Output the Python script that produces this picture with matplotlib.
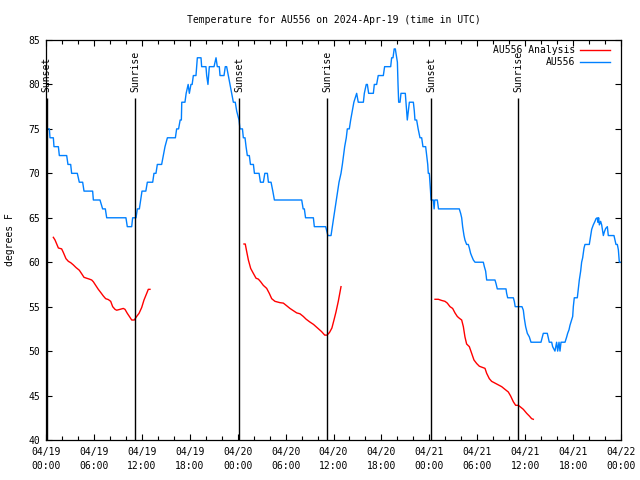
import matplotlib
matplotlib.use('Agg')
import matplotlib.pyplot as plt

plt.rcParams['font.family'] = ['DejaVu Sans Mono', 'DejaVu Sans']
plt.rcParams['font.size'] = 7

title = "Temperature for AU556 on 2024-Apr-19 (time in UTC)"
ylabel = "degrees F"
obs_label = "AU556"
ana_label = "AU556 Analysis"

x_tick_hours = [0, 6, 12, 18, 24, 30, 36, 42, 48, 54, 60, 66, 72]
x_tick_labels = ["04/19\n00:00", "04/19\n06:00", "04/19\n12:00", "04/19\n18:00",
                 "04/20\n00:00", "04/20\n06:00", "04/20\n12:00", "04/20\n18:00",
                 "04/21\n00:00", "04/21\n06:00", "04/21\n12:00", "04/21\n18:00",
                 "04/22\n00:00"]
y_ticks = [40, 45, 50, 55, 60, 65, 70, 75, 80, 85]

sun_hours = [0.1, 11.2, 24.18, 35.22, 48.25, 59.13]
sun_names = ["Sunset", "Sunrise", "Sunset", "Sunrise", "Sunset", "Sunrise"]

obs_hours = [0.10, 0.42, 0.50, 0.92, 1.00, 1.55, 1.67, 2.59, 2.75, 3.09, 3.21, 3.92,
             4.17, 4.59, 4.76, 5.84, 5.93, 6.76, 7.09, 7.43, 7.60, 10.01, 10.18, 10.73,
             10.85, 11.27, 11.44, 11.69, 11.86, 12.02, 12.50, 12.69, 13.36, 13.52, 13.77,
             13.94, 14.48, 14.69, 14.90, 15.20, 16.20, 16.36, 16.60, 16.80, 16.95, 17.00,
             17.40, 17.55, 17.80, 17.95, 18.15, 18.30, 18.45, 18.78, 18.87, 18.95, 19.41,
             19.49, 19.78, 20.03, 20.12, 20.28, 20.37, 20.45, 21.04, 21.16, 21.29, 21.45,
             21.70, 21.79, 22.29, 22.45, 22.62, 22.83, 23.04, 23.25, 23.46, 23.70, 23.88,
             24.17, 24.29, 24.60, 24.71, 24.92, 25.05, 25.21, 25.46, 25.60, 25.97, 26.10,
             26.68, 26.85, 27.22, 27.40, 27.72, 27.85, 28.18, 28.40, 28.60, 32.02, 32.20,
             32.35, 32.50, 33.48, 33.60, 35.02, 35.30, 35.69, 35.85, 36.02, 36.19, 36.36,
             36.52, 36.69, 36.94, 37.11, 37.25, 37.40, 37.60, 37.73, 37.98, 38.15, 38.35,
             38.55, 38.90, 39.10, 39.74, 39.86, 40.10, 40.24, 40.40, 40.99, 41.11, 41.40,
             41.60, 42.24, 42.40, 43.16, 43.28, 43.45, 43.60, 43.74, 43.91, 44.00, 44.08,
             44.16, 44.33, 44.45, 44.99, 45.08, 45.16, 45.24, 45.37, 45.50, 46.00, 46.12,
             46.20, 46.41, 46.60, 46.83, 47.04, 47.20, 47.54, 47.67, 47.80, 47.87, 48.00,
             48.08, 48.15, 48.21, 48.50, 48.60, 48.68, 49.00, 49.15, 51.75, 51.92, 52.05,
             52.17, 52.34, 52.46, 52.67, 52.88, 53.01, 53.17, 53.30, 53.51, 53.72, 54.76,
             54.89, 55.05, 55.18, 56.22, 56.35, 56.51, 57.60, 57.68, 57.81, 58.52, 58.64,
             58.75, 59.60, 59.77, 59.89, 60.06, 60.27, 60.52, 60.73, 61.98, 62.15, 62.27,
             62.77, 63.02, 63.32, 63.44, 63.73, 63.94, 64.07, 64.24, 64.36, 64.49, 64.99,
             65.20, 65.32, 65.49, 65.61, 65.82, 65.95, 66.03, 66.15, 66.53, 66.66, 66.78,
             66.95, 67.07, 67.20, 67.37, 67.49, 68.03, 68.20, 68.33, 68.53, 68.74, 68.87,
             69.03, 69.10, 69.20, 69.29, 69.45, 69.58, 69.79, 69.91, 70.08, 70.29, 70.41,
             71.12, 71.25, 71.37, 71.54, 71.67, 71.79, 72.00]
obs_temps = [75, 75, 74, 74, 73, 73, 72, 72, 71, 71, 70, 70,
             69, 69, 68, 68, 67, 67, 66, 66, 65, 65, 64, 64,
             65, 65, 66, 66, 67, 68, 68, 69, 69, 70, 70,
             71, 71, 72, 73, 74, 74, 75, 75, 76, 76, 78,
             78, 79, 80, 79, 80, 80, 81, 81, 82, 83, 83,
             82, 82, 82, 81, 80, 81, 82, 82, 82.5, 83, 82,
             82, 81, 81, 82, 82, 81, 80, 79, 78, 78, 77,
             76, 75, 75, 74, 74, 73, 72, 72, 71, 71, 70,
             70, 69, 69, 70, 70, 69, 69, 68, 67, 67, 66,
             66, 65, 65, 64, 64, 63, 63, 64, 65, 66, 67,
             68, 69, 70, 71, 72, 73, 74, 75, 75, 76, 77,
             78, 79, 78, 78, 79, 80, 80, 79, 79, 80, 80,
             81, 81, 82, 82, 83, 83, 84, 84, 83, 82.5, 80,
             78, 78, 79, 79, 78, 77, 76, 77, 78, 78, 77,
             76, 76, 75, 74, 74, 73, 73, 72, 71, 70, 70,
             69, 68, 67, 67, 66, 67, 67, 66, 66, 65.5, 65,
             64, 63, 62.5, 62, 62, 61.6, 61, 60.7, 60.25, 60, 60,
             59.5, 59, 58, 58, 57.6, 57, 57, 56.5, 56, 56, 55.6,
             55, 55, 54.6, 53.7, 52.75, 52, 51.6, 51, 51, 51.6, 52,
             52, 51, 51, 50.5, 50, 51, 50, 51, 50, 51, 51,
             51.6, 52, 52.4, 52.9, 53.5, 53.9, 55, 56, 56, 57, 58,
             59, 60, 60.5, 61.6, 62, 62, 63, 63.7, 64.2, 64.6, 64.9,
             65, 64.5, 65, 64.2, 64.6, 64.2, 63, 63.4, 63.8, 64, 63,
             63, 62.5, 62, 62, 61.4, 60, 60]

ana1_hours = [0.92, 1.13, 1.34, 1.55, 1.96, 2.17, 2.50, 2.80, 3.09, 3.42, 3.76, 4.17,
              4.47, 4.76, 5.09, 5.43, 5.72, 5.93, 6.22, 6.55, 6.85, 7.18, 7.47, 7.80,
              8.10, 8.35, 8.64, 8.85, 9.27, 9.68, 9.89, 10.18, 10.44, 10.73, 11.06,
              11.35, 11.65, 11.98, 12.27, 12.61, 12.81, 13.02]
ana1_temps = [62.8, 62.5, 62.05, 61.6, 61.5, 61.1, 60.4, 60.1, 59.95, 59.7, 59.4, 59.1,
              58.7, 58.3, 58.2, 58.1, 58.0, 57.8, 57.4, 56.95, 56.6, 56.2, 55.9, 55.8,
              55.6, 55.0, 54.7, 54.6, 54.7, 54.8, 54.7, 54.25, 53.9, 53.5, 53.5,
              53.9, 54.25, 54.9, 55.75, 56.5, 56.95, 56.95]

ana2_hours = [24.79, 24.95, 25.13, 25.34, 25.63, 25.96, 26.30, 26.59, 26.88, 27.21, 27.63,
              27.96, 28.26, 28.67, 29.30, 29.72, 30.14, 30.55, 30.97, 31.39, 31.80, 32.22,
              32.56, 33.00, 33.50, 34.00, 34.50, 34.90, 35.20, 35.50, 35.80, 36.06, 36.31,
              36.60, 36.94]
ana2_temps = [62.05, 62.05, 61.2, 60.25, 59.3, 58.75, 58.2, 58.1, 57.8, 57.4, 57.06,
              56.5, 55.9, 55.6, 55.45, 55.4, 55.1, 54.8, 54.55, 54.3, 54.2, 53.9,
              53.6, 53.3, 53.0, 52.6, 52.2, 51.8, 51.8, 52.1, 52.6, 53.5, 54.4,
              55.6, 57.25]

ana3_hours = [48.71, 49.13, 49.54, 49.96, 50.25, 50.59, 50.92, 51.21, 51.50, 51.75, 52.05,
              52.26, 52.46, 52.67, 53.01, 53.30, 53.59, 53.93, 54.26, 54.55, 54.97, 55.18,
              55.51, 55.80, 56.22, 56.64, 57.06, 57.47, 57.89, 58.18, 58.52, 58.81, 59.14,
              59.43, 59.77, 60.19, 60.52, 60.81, 61.02]
ana3_temps = [55.83, 55.83, 55.7, 55.6, 55.4, 55.0, 54.8, 54.3, 53.9, 53.7, 53.5,
              52.75, 51.6, 50.8, 50.5, 49.75, 49.0, 48.6, 48.3, 48.2, 48.06, 47.5,
              46.9, 46.6, 46.4, 46.2, 46.0, 45.7, 45.4, 44.95, 44.3, 43.9, 43.9,
              43.7, 43.45, 43.0, 42.7, 42.4, 42.33]

W, H = 640, 480
fig = plt.figure(figsize=(6.4, 4.8), dpi=100)
ax = fig.add_axes([46 / W, 1 - 440 / H, (621 - 46) / W, 400 / H])

red = '#ff0000'
blue = '#0080ff'

ax.plot(ana1_hours, ana1_temps, color=red, lw=1.0, label=ana_label)
ax.plot(ana2_hours, ana2_temps, color=red, lw=1.0)
ax.plot(ana3_hours, ana3_temps, color=red, lw=1.0)
ax.plot(obs_hours, obs_temps, color=blue, lw=1.0, label=obs_label)

for h, name in zip(sun_hours, sun_names):
    ax.plot([h, h], [40, 78.47], color='black', lw=1.0, solid_capstyle='butt')
    ax.text(h, 79.15, name, rotation=90, ha='center', va='bottom', fontsize=7,
            clip_on=False)

ax.set_xlim(0, 72)
ax.set_ylim(40, 85)
ax.set_xticks(x_tick_hours)
ax.set_xticklabels(x_tick_labels, linespacing=1.5)
ax.set_xticks(list(range(0, 73, 2)), minor=True)
ax.set_yticks(y_ticks)
ax.set_yticklabels([str(v) for v in y_ticks])

ax.tick_params(axis='both', which='both', direction='in', top=True, right=True,
               width=0.8, colors='black', labelsize=7)
ax.tick_params(axis='x', which='major', length=4.5, pad=5)
ax.tick_params(axis='x', which='minor', length=3)
ax.tick_params(axis='y', which='major', length=4, pad=4)
for s in ax.spines.values():
    s.set_linewidth(0.9)
    s.set_color('black')

fig.text(333.5 / W, 1 - 20 / H, title, ha='center', va='center', fontsize=7)
fig.text(10 / W, 1 - 240 / H, ylabel, ha='center', va='center', rotation=90, fontsize=7)

handles, labels = ax.get_legend_handles_labels()
ax.legend(handles, labels, loc='upper right', bbox_to_anchor=(610 / W, 1 - 45 / H),
          bbox_transform=fig.transFigure, frameon=False, markerfirst=False,
          borderpad=0, borderaxespad=0, handlelength=3.1, handletextpad=0.5,
          labelspacing=0.25, fontsize=7)

fig.savefig('out.png', dpi=100)
